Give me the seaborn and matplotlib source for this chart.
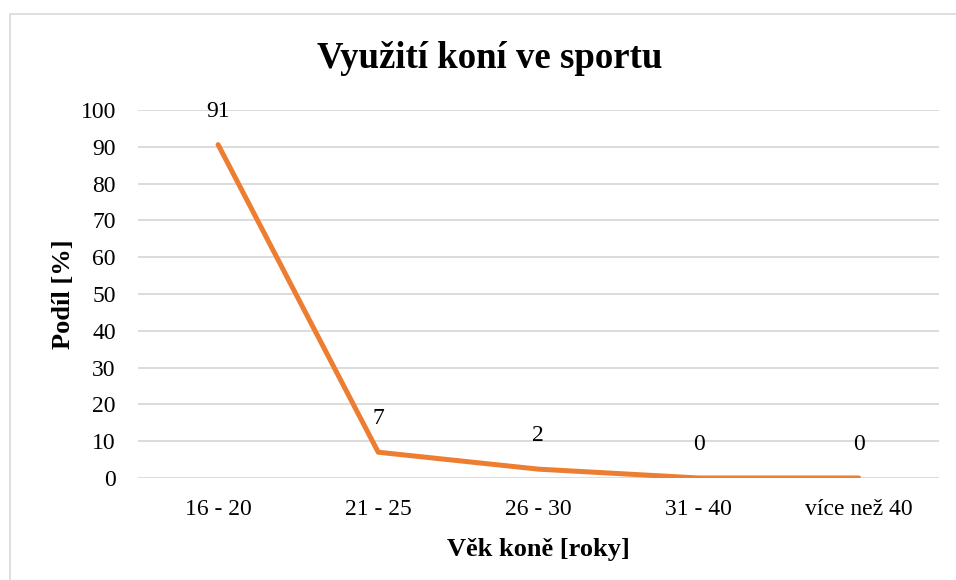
import matplotlib.pyplot as plt
import seaborn as sns
import pandas as pd
from matplotlib.patches import Rectangle

# data
categories = ["16 - 20", "21 - 25", "26 - 30", "31 - 40", "více než 40"]
podil = [90.6, 7.0, 2.4, 0.0, 0.0]
y_ticks = [0, 10, 20, 30, 40, 50, 60, 70, 80, 90, 100]

df = pd.DataFrame({"vek": categories, "podil": podil})

sns.set_theme(style="white")
plt.rcParams['font.family'] = ['Liberation Serif', 'DejaVu Serif']
plt.rcParams['text.color'] = '#000000'
plt.rcParams['axes.labelcolor'] = '#000000'

fig = plt.figure(figsize=(9.56, 5.8), dpi=100)
ax = fig.add_axes([0.1444, 0.1759, 0.8375, 0.6344])

# light frame around the whole chart
fig.patches.append(Rectangle((10 / 956, -0.1), 1.0, 1.1 - 14 / 580,
                             transform=fig.transFigure, fill=False,
                             edgecolor="#D9D9D9", linewidth=1.2, zorder=0))

sns.lineplot(data=df, x="vek", y="podil", ax=ax, color="#ED7D31",
             linewidth=3.6, sort=False, solid_capstyle="round",
             solid_joinstyle="round")

for i, v in enumerate(df["podil"]):
    ax.annotate(f"{v:.0f}", (i, v), xytext=(0, 24), textcoords="offset points",
                ha="center", va="center", fontsize=17, color="#000000")

ax.set_xlim(-0.5, len(categories) - 0.5)
ax.set_ylim(0, 100)
ax.set_yticks(y_ticks)
ax.yaxis.grid(True, color="#D9D9D9", linewidth=1.3)
ax.set_axisbelow(True)
for s in ax.spines.values():
    s.set_visible(False)
ax.tick_params(axis="both", length=0, labelsize=17, colors="#000000")
ax.tick_params(axis="y", pad=16)
ax.tick_params(axis="x", pad=15)

fig.text(490 / 956, 1 - 58 / 580, "Využití koní ve sportu", fontsize=26.5,
         fontweight="bold", ha="center", va="center")
ax.set_xlabel("Věk koně [roky]", fontsize=19, fontweight="bold", labelpad=13)
ax.set_ylabel("Podíl [%]", fontsize=19, fontweight="bold", labelpad=4)

fig.savefig("out.png", dpi=100)
